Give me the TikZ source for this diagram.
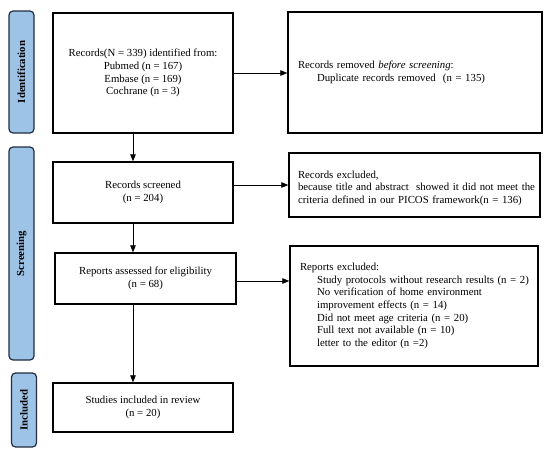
\documentclass[tikz,border=0pt]{standalone}
\usepackage{fontspec}
\setmainfont{Liberation Serif}
\usetikzlibrary{arrows.meta}

\definecolor{stagefill}{RGB}{157,195,230}
\definecolor{stageedge}{RGB}{35,45,65}

\begin{document}
\begin{tikzpicture}[x=1pt, y=-1pt,
    box/.style={draw, line width=1.4pt, inner sep=0pt,
      font=\fontsize{10.8}{12.7}\selectfont},
    midbox/.style={box, align=center, minimum width=180pt},
    sidebox/.style={box, align=left, inner xsep=10pt},
    stage/.style={draw=stageedge, fill=stagefill, line width=1.2pt,
      rounded corners=4pt, rotate=90, minimum height=25pt, inner sep=0pt,
      font=\fontsize{10.8}{12.7}\selectfont\bfseries},
    arr/.style={-{Triangle[length=7pt,width=5.5pt]}, line width=0.8pt},
  ]
  \useasboundingbox (0,0) rectangle (550,455);

  % stages
  \node[stage, minimum width=122pt] (St-1) at (21.5,72) {Identification};
  \node[stage, minimum width=213pt] (St-2) at (21.5,253.5) {Screening};
  \node[stage, minimum width=74pt]  (St-3) at (24,410) {Included};

  % main column
  \node[midbox, minimum height=120pt] (ident) at (143,73)
    {Records(N = 339) identified from:\\ Pubmed (n = 167)\\ Embase (n = 169)\\ Cochrane (n = 3)};
  \node[midbox, minimum height=61pt] (screen) at (143,192.5)
    {Records screened\\ (n = 204)};
  \node[midbox, minimum width=181pt, minimum height=51pt] (assess) at (145.5,278.5)
    {Reports assessed for eligibility\\ (n = 68)};
  \node[midbox, minimum height=49pt] (incl) at (143,407.5)
    {Studies included in review\\ (n = 20)};

  % side column
  \node[sidebox, text width=234pt, minimum height=121pt] (removed) at (415,72.5)
    {Records removed \emph{before screening}:\\
     \hspace*{19pt}Duplicate records removed\ \ (n = 135)};
  \node[sidebox, inner xsep=9pt, text width=233pt, minimum height=64pt] (excl) at (414.5,185)
    {\rule{0pt}{14pt}Records excluded,\\
     \mbox{because title and abstract\ \ showed it did not meet the}\\
     criteria defined in our PICOS framework(n = 136)};
  \node[sidebox, text width=228pt, minimum height=120pt] (exclrep) at (414,306)
    {Reports excluded:\\
     \hspace*{17pt}\mbox{Study protocols without research results (n = 2)}\\
     \hspace*{17pt}No verification of home environment\\
     \hspace*{17pt}improvement effects (n = 14)\\
     \hspace*{17pt}Did not meet age criteria (n = 20)\\
     \hspace*{17pt}Full text not available (n = 10)\\
     \hspace*{17pt}letter to the editor (n =2)};

  % arrows
  \coordinate (spine) at (133,0);
  \draw[arr] (ident.south -| spine) -- (screen.north -| spine);
  \draw[arr] (screen.south -| spine) -- (assess.north -| spine);
  \draw[arr] (assess.south -| spine) -- (incl.north -| spine);

  \draw[arr] (ident.east) -- (ident.east -| removed.west);
  \draw[arr] (excl.west -| screen.east) -- (excl.west);
  \draw[arr] ([yshift=-2.5pt]assess.east) -- ([yshift=-2.5pt]assess.east -| exclrep.west);

\end{tikzpicture}
\end{document}
